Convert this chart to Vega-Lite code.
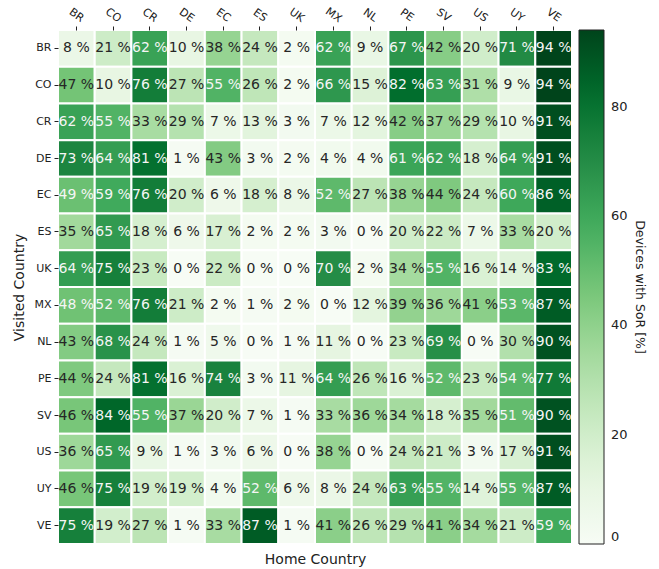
{
  "$schema": "https://vega.github.io/schema/vega-lite/v6.json",
  "width": 514,
  "height": 514,
  "autosize": {"type": "none"},
  "padding": {"left": 58, "top": 30, "right": 87, "bottom": 25},
  "config": {
    "view": {"stroke": null},
    "font": "DejaVu Sans",
    "axis": {"labelColor": "#222", "tickColor": "#222", "titleColor": "#222", "domain": false, "titleFontWeight": "normal"}
  },
  "data": {"values": [
    {"visited":"BR","home":"BR","value":8},{"visited":"BR","home":"CO","value":21},{"visited":"BR","home":"CR","value":62},{"visited":"BR","home":"DE","value":10},{"visited":"BR","home":"EC","value":38},{"visited":"BR","home":"ES","value":24},{"visited":"BR","home":"UK","value":2},{"visited":"BR","home":"MX","value":62},{"visited":"BR","home":"NL","value":9},{"visited":"BR","home":"PE","value":67},{"visited":"BR","home":"SV","value":42},{"visited":"BR","home":"US","value":20},{"visited":"BR","home":"UY","value":71},{"visited":"BR","home":"VE","value":94},
    {"visited":"CO","home":"BR","value":47},{"visited":"CO","home":"CO","value":10},{"visited":"CO","home":"CR","value":76},{"visited":"CO","home":"DE","value":27},{"visited":"CO","home":"EC","value":55},{"visited":"CO","home":"ES","value":26},{"visited":"CO","home":"UK","value":2},{"visited":"CO","home":"MX","value":66},{"visited":"CO","home":"NL","value":15},{"visited":"CO","home":"PE","value":82},{"visited":"CO","home":"SV","value":63},{"visited":"CO","home":"US","value":31},{"visited":"CO","home":"UY","value":9},{"visited":"CO","home":"VE","value":94},
    {"visited":"CR","home":"BR","value":62},{"visited":"CR","home":"CO","value":55},{"visited":"CR","home":"CR","value":33},{"visited":"CR","home":"DE","value":29},{"visited":"CR","home":"EC","value":7},{"visited":"CR","home":"ES","value":13},{"visited":"CR","home":"UK","value":3},{"visited":"CR","home":"MX","value":7},{"visited":"CR","home":"NL","value":12},{"visited":"CR","home":"PE","value":42},{"visited":"CR","home":"SV","value":37},{"visited":"CR","home":"US","value":29},{"visited":"CR","home":"UY","value":10},{"visited":"CR","home":"VE","value":91},
    {"visited":"DE","home":"BR","value":73},{"visited":"DE","home":"CO","value":64},{"visited":"DE","home":"CR","value":81},{"visited":"DE","home":"DE","value":1},{"visited":"DE","home":"EC","value":43},{"visited":"DE","home":"ES","value":3},{"visited":"DE","home":"UK","value":2},{"visited":"DE","home":"MX","value":4},{"visited":"DE","home":"NL","value":4},{"visited":"DE","home":"PE","value":61},{"visited":"DE","home":"SV","value":62},{"visited":"DE","home":"US","value":18},{"visited":"DE","home":"UY","value":64},{"visited":"DE","home":"VE","value":91},
    {"visited":"EC","home":"BR","value":49},{"visited":"EC","home":"CO","value":59},{"visited":"EC","home":"CR","value":76},{"visited":"EC","home":"DE","value":20},{"visited":"EC","home":"EC","value":6},{"visited":"EC","home":"ES","value":18},{"visited":"EC","home":"UK","value":8},{"visited":"EC","home":"MX","value":52},{"visited":"EC","home":"NL","value":27},{"visited":"EC","home":"PE","value":38},{"visited":"EC","home":"SV","value":44},{"visited":"EC","home":"US","value":24},{"visited":"EC","home":"UY","value":60},{"visited":"EC","home":"VE","value":86},
    {"visited":"ES","home":"BR","value":35},{"visited":"ES","home":"CO","value":65},{"visited":"ES","home":"CR","value":18},{"visited":"ES","home":"DE","value":6},{"visited":"ES","home":"EC","value":17},{"visited":"ES","home":"ES","value":2},{"visited":"ES","home":"UK","value":2},{"visited":"ES","home":"MX","value":3},{"visited":"ES","home":"NL","value":0},{"visited":"ES","home":"PE","value":20},{"visited":"ES","home":"SV","value":22},{"visited":"ES","home":"US","value":7},{"visited":"ES","home":"UY","value":33},{"visited":"ES","home":"VE","value":20},
    {"visited":"UK","home":"BR","value":64},{"visited":"UK","home":"CO","value":75},{"visited":"UK","home":"CR","value":23},{"visited":"UK","home":"DE","value":0},{"visited":"UK","home":"EC","value":22},{"visited":"UK","home":"ES","value":0},{"visited":"UK","home":"UK","value":0},{"visited":"UK","home":"MX","value":70},{"visited":"UK","home":"NL","value":2},{"visited":"UK","home":"PE","value":34},{"visited":"UK","home":"SV","value":55},{"visited":"UK","home":"US","value":16},{"visited":"UK","home":"UY","value":14},{"visited":"UK","home":"VE","value":83},
    {"visited":"MX","home":"BR","value":48},{"visited":"MX","home":"CO","value":52},{"visited":"MX","home":"CR","value":76},{"visited":"MX","home":"DE","value":21},{"visited":"MX","home":"EC","value":2},{"visited":"MX","home":"ES","value":1},{"visited":"MX","home":"UK","value":2},{"visited":"MX","home":"MX","value":0},{"visited":"MX","home":"NL","value":12},{"visited":"MX","home":"PE","value":39},{"visited":"MX","home":"SV","value":36},{"visited":"MX","home":"US","value":41},{"visited":"MX","home":"UY","value":53},{"visited":"MX","home":"VE","value":87},
    {"visited":"NL","home":"BR","value":43},{"visited":"NL","home":"CO","value":68},{"visited":"NL","home":"CR","value":24},{"visited":"NL","home":"DE","value":1},{"visited":"NL","home":"EC","value":5},{"visited":"NL","home":"ES","value":0},{"visited":"NL","home":"UK","value":1},{"visited":"NL","home":"MX","value":11},{"visited":"NL","home":"NL","value":0},{"visited":"NL","home":"PE","value":23},{"visited":"NL","home":"SV","value":69},{"visited":"NL","home":"US","value":0},{"visited":"NL","home":"UY","value":30},{"visited":"NL","home":"VE","value":90},
    {"visited":"PE","home":"BR","value":44},{"visited":"PE","home":"CO","value":24},{"visited":"PE","home":"CR","value":81},{"visited":"PE","home":"DE","value":16},{"visited":"PE","home":"EC","value":74},{"visited":"PE","home":"ES","value":3},{"visited":"PE","home":"UK","value":11},{"visited":"PE","home":"MX","value":64},{"visited":"PE","home":"NL","value":26},{"visited":"PE","home":"PE","value":16},{"visited":"PE","home":"SV","value":52},{"visited":"PE","home":"US","value":23},{"visited":"PE","home":"UY","value":54},{"visited":"PE","home":"VE","value":77},
    {"visited":"SV","home":"BR","value":46},{"visited":"SV","home":"CO","value":84},{"visited":"SV","home":"CR","value":55},{"visited":"SV","home":"DE","value":37},{"visited":"SV","home":"EC","value":20},{"visited":"SV","home":"ES","value":7},{"visited":"SV","home":"UK","value":1},{"visited":"SV","home":"MX","value":33},{"visited":"SV","home":"NL","value":36},{"visited":"SV","home":"PE","value":34},{"visited":"SV","home":"SV","value":18},{"visited":"SV","home":"US","value":35},{"visited":"SV","home":"UY","value":51},{"visited":"SV","home":"VE","value":90},
    {"visited":"US","home":"BR","value":36},{"visited":"US","home":"CO","value":65},{"visited":"US","home":"CR","value":9},{"visited":"US","home":"DE","value":1},{"visited":"US","home":"EC","value":3},{"visited":"US","home":"ES","value":6},{"visited":"US","home":"UK","value":0},{"visited":"US","home":"MX","value":38},{"visited":"US","home":"NL","value":0},{"visited":"US","home":"PE","value":24},{"visited":"US","home":"SV","value":21},{"visited":"US","home":"US","value":3},{"visited":"US","home":"UY","value":17},{"visited":"US","home":"VE","value":91},
    {"visited":"UY","home":"BR","value":46},{"visited":"UY","home":"CO","value":75},{"visited":"UY","home":"CR","value":19},{"visited":"UY","home":"DE","value":19},{"visited":"UY","home":"EC","value":4},{"visited":"UY","home":"ES","value":52},{"visited":"UY","home":"UK","value":6},{"visited":"UY","home":"MX","value":8},{"visited":"UY","home":"NL","value":24},{"visited":"UY","home":"PE","value":63},{"visited":"UY","home":"SV","value":55},{"visited":"UY","home":"US","value":14},{"visited":"UY","home":"UY","value":55},{"visited":"UY","home":"VE","value":87},
    {"visited":"VE","home":"BR","value":75},{"visited":"VE","home":"CO","value":19},{"visited":"VE","home":"CR","value":27},{"visited":"VE","home":"DE","value":1},{"visited":"VE","home":"EC","value":33},{"visited":"VE","home":"ES","value":87},{"visited":"VE","home":"UK","value":1},{"visited":"VE","home":"MX","value":41},{"visited":"VE","home":"NL","value":26},{"visited":"VE","home":"PE","value":29},{"visited":"VE","home":"SV","value":41},{"visited":"VE","home":"US","value":34},{"visited":"VE","home":"UY","value":21},{"visited":"VE","home":"VE","value":59}
  ]},
  "transform": [{"calculate": "datum.value + ' %'", "as": "label"}],
  "encoding": {
    "y": {
      "field": "visited", "type": "nominal",
      "sort": ["BR","CO","CR","DE","EC","ES","UK","MX","NL","PE","SV","US","UY","VE"],
      "scale": {"paddingInner": 0, "paddingOuter": 0},
      "axis": {"orient": "left", "title": "Visited Country", "titleFontSize": 14, "titlePadding": 7, "labelFontSize": 11, "labelPadding": 3, "tickSize": 4, "labelAngle": 0}
    }
  },
  "layer": [
    {
      "mark": {"type": "rect", "stroke": "white", "strokeWidth": 2},
      "encoding": {
        "x": {
          "field": "home", "type": "nominal",
          "sort": ["BR","CO","CR","DE","EC","ES","UK","MX","NL","PE","SV","US","UY","VE"],
          "scale": {"paddingInner": 0, "paddingOuter": 0},
          "axis": {"orient": "top", "title": null, "labelFontSize": 11, "labelAngle": 35, "labelAlign": "center", "labelBaseline": "middle", "labelPadding": 11, "tickSize": 4}
        },
        "color": {
          "field": "value", "type": "quantitative",
          "scale": {
            "domain": [0, 11.75, 23.5, 35.25, 47, 58.75, 70.5, 82.25, 94],
            "range": ["#f7fcf5","#e5f5e0","#c7e9c0","#a1d99b","#74c476","#41ab5d","#238b45","#006d2c","#00441b"],
            "interpolate": "rgb"
          },
          "legend": {
            "orient": "right", "offset": 7, "direction": "vertical",
            "gradientLength": 514, "gradientThickness": 25,
            "gradientStrokeColor": "#222", "gradientStrokeWidth": 1,
            "values": [0, 20, 40, 60, 80], "labelOverlap": false,
            "labelFontSize": 13, "labelColor": "#222", "labelOffset": 7,
            "title": "Devices with SoR [%]", "titleOrient": "right", "titleAngle": 90,
            "titleAnchor": "middle", "titleFontSize": 12.5, "titleFontWeight": "normal", "titleColor": "#222", "titlePadding": 5
          }
        }
      }
    },
    {
      "mark": {"type": "text", "fontSize": 14, "fontWeight": "normal"},
      "encoding": {
        "x": {
          "field": "home", "type": "nominal",
          "sort": ["BR","CO","CR","DE","EC","ES","UK","MX","NL","PE","SV","US","UY","VE"],
          "axis": {"orient": "bottom", "title": "Home Country", "titleFontSize": 14, "titlePadding": 8, "labels": false, "ticks": false}
        },
        "text": {"field": "label"},
        "color": {"condition": {"test": "datum.value > 47", "value": "#f5f5f5"}, "value": "#262626"}
      }
    }
  ],
  "resolve": {"axis": {"x": "independent"}}
}
